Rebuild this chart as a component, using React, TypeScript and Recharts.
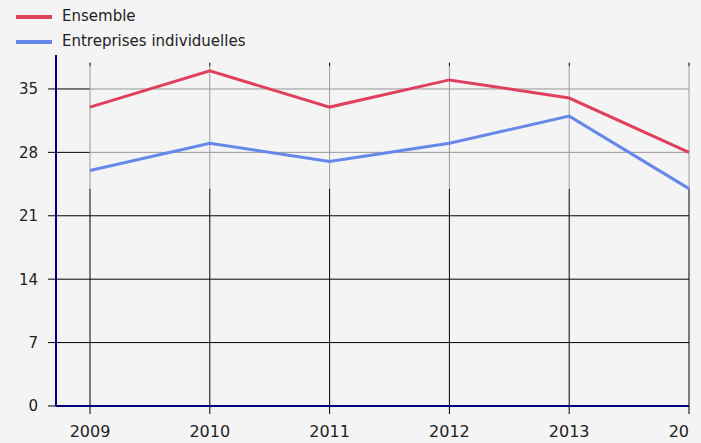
import React from 'react';
import {
  LineChart,
  Line,
  XAxis,
  YAxis,
  CartesianGrid,
  ReferenceLine,
  ReferenceArea,
} from 'recharts';

const years = ['2009', '2010', '2011', '2012', '2013', '2014'];
const ensemble = [33, 37, 33, 36, 34, 28];
const entreprises = [26, 29, 27, 29, 32, 24];
const yTicks = [0, 7, 14, 21, 28, 35];

const seriesNames = ['Ensemble', 'Entreprises individuelles'];
const seriesKeys = ['ensemble', 'entreprises'];
const seriesColors = ['#e0405e', '#6688e8'];

// highlighted band (lighter grid inside it)
const bandLow = 24;
const bandHigh = 37.5;
const gridTop = 37.9;

const data = years.map((y, i) => ({
  year: y,
  ensemble: ensemble[i],
  entreprises: entreprises[i],
}));

const FONT = '"DejaVu Sans", Verdana, sans-serif';
const xTickStyle = { fontFamily: FONT, fontSize: 16, fill: '#222' };
const yTickStyle = { fontFamily: FONT, fontSize: 15, fill: '#222' };

export default function App() {
  return (
    <div
      style={{
        position: 'absolute',
        left: 0,
        top: 0,
        width: 701,
        height: 443,
        overflow: 'hidden',
        background: '#f4f4f4',
      }}
    >
      <div style={{ position: 'absolute', left: 0, top: 4, zIndex: 2 }}>
        {seriesNames.map((name, i) => (
          <div
            key={name}
            style={{ display: 'flex', alignItems: 'center', height: 25 }}
          >
            <div
              style={{
                marginLeft: 16,
                width: 36,
                height: 4,
                background: seriesColors[i],
              }}
            />
            <span
              style={{
                marginLeft: 10,
                fontFamily: FONT,
                fontSize: 15,
                color: '#222',
                lineHeight: '25px',
              }}
            >
              {name}
            </span>
          </div>
        ))}
      </div>
      <div
        style={{
          position: 'absolute',
          left: 0,
          top: 0,
          width: 690,
          height: 443,
          overflow: 'hidden',
        }}
      >
        <LineChart
          width={740}
          height={443}
          data={data}
          margin={{ top: 55, right: 51, left: 0, bottom: 0 }}
        >
          <CartesianGrid
            vertical={false}
            horizontalValues={yTicks}
            stroke="#000"
            strokeWidth={1}
          />
          <ReferenceArea
            x1="2009"
            x2="2014"
            y1={bandLow}
            y2={bandHigh}
            fill="#f4f4f4"
            fillOpacity={0.62}
            stroke="none"
            ifOverflow="visible"
          />
          {years.map((y) => (
            <ReferenceLine
              key={'a' + y}
              segment={[
                { x: y, y: 0 },
                { x: y, y: bandLow },
              ]}
              stroke="#000"
              strokeWidth={1}
              ifOverflow="visible"
            />
          ))}
          {years.map((y) => (
            <ReferenceLine
              key={'b' + y}
              segment={[
                { x: y, y: bandLow },
                { x: y, y: bandHigh },
              ]}
              stroke="#9a9a9a"
              strokeWidth={1}
              ifOverflow="visible"
            />
          ))}
          {years.map((y) => (
            <ReferenceLine
              key={'c' + y}
              segment={[
                { x: y, y: bandHigh },
                { x: y, y: gridTop },
              ]}
              stroke="#000"
              strokeWidth={1}
              ifOverflow="visible"
            />
          ))}
          <XAxis
            dataKey="year"
            type="category"
            scale="point"
            padding={{ left: 34, right: 0 }}
            height={37}
            tickSize={8}
            tickMargin={12}
            tick={xTickStyle}
            tickLine={{ stroke: '#000' }}
            axisLine={{ stroke: '#000080', strokeWidth: 2 }}
            interval={0}
          />
          <YAxis
            domain={[0, 38.75]}
            ticks={yTicks}
            width={56}
            tickSize={8}
            tickMargin={10}
            tick={yTickStyle}
            tickLine={{ stroke: '#000' }}
            axisLine={{ stroke: '#000080', strokeWidth: 2 }}
            allowDataOverflow
          />
          {seriesKeys.map((k, i) => (
            <Line
              key={k}
              dataKey={k}
              name={seriesNames[i]}
              stroke={seriesColors[i]}
              strokeWidth={3}
              dot={false}
              activeDot={false}
              isAnimationActive={false}
            />
          ))}
        </LineChart>
      </div>
    </div>
  );
}
